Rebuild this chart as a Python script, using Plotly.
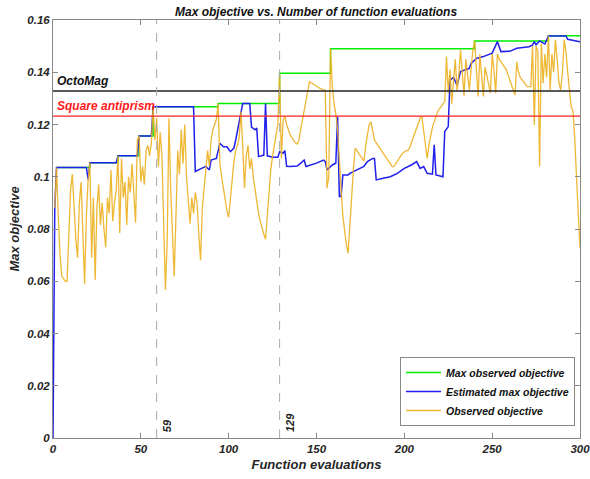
import plotly.graph_objects as go

# ---------------- data ----------------
evals = list(range(1, 301))
observed = [
    0.088, 0.1035, 0.085, 0.070, 0.062, 0.061, 0.060, 0.060, 0.078, 0.095,
    0.101, 0.088, 0.076, 0.069, 0.090, 0.098, 0.080, 0.059, 0.085, 0.099,
    0.1054, 0.069, 0.092, 0.0605, 0.088, 0.097, 0.0815, 0.090, 0.080, 0.073,
    0.092, 0.086, 0.1026, 0.083, 0.090, 0.095, 0.108, 0.0785, 0.107, 0.092,
    0.098, 0.0815, 0.100, 0.094, 0.105, 0.093, 0.0824, 0.114, 0.1156, 0.098,
    0.104, 0.097, 0.110, 0.112, 0.108, 0.113, 0.1268, 0.114, 0.1225, 0.1039,
    0.117, 0.108, 0.082, 0.0567, 0.075, 0.1224, 0.095, 0.078, 0.0618, 0.085,
    0.110, 0.101, 0.118, 0.105, 0.120, 0.100, 0.090, 0.082, 0.092, 0.086,
    0.094, 0.090, 0.078, 0.068, 0.088, 0.095, 0.105, 0.110, 0.104, 0.114,
    0.118, 0.120, 0.122, 0.128, 0.105, 0.100, 0.095, 0.090, 0.087, 0.0845,
    0.092, 0.100, 0.106, 0.110, 0.112, 0.115, 0.125, 0.112, 0.0957, 0.108,
    0.112, 0.103, 0.107, 0.100, 0.095, 0.090, 0.086, 0.083, 0.080, 0.078,
    0.0761, 0.085, 0.095, 0.103, 0.108, 0.112, 0.115, 0.120, 0.1396, 0.107,
    0.1217, 0.123, 0.120, 0.118, 0.116, 0.115, 0.114, 0.113, 0.1125, 0.114,
    0.118, 0.122, 0.126, 0.130, 0.133, 0.1364, 0.136, 0.1355, 0.135, 0.1345,
    0.134, 0.1338, 0.1335, 0.1332, 0.133, 0.0956, 0.100, 0.149, 0.135, 0.128,
    0.124, 0.118, 0.105, 0.095, 0.085, 0.078, 0.074, 0.0707, 0.080, 0.092,
    0.103, 0.111, 0.110, 0.109, 0.108, 0.107, 0.106, 0.112, 0.117, 0.120,
    0.121, 0.117, 0.114, 0.113, 0.112, 0.111, 0.110, 0.109, 0.108, 0.107,
    0.106, 0.105, 0.104, 0.1039, 0.105, 0.106, 0.107, 0.108, 0.109, 0.1095,
    0.110, 0.110, 0.111, 0.113, 0.115, 0.117, 0.119, 0.121, 0.1224, 0.123,
    0.118, 0.112, 0.107, 0.112, 0.116, 0.119, 0.121, 0.123, 0.125, 0.126,
    0.127, 0.128, 0.1288, 0.146, 0.132, 0.141, 0.128, 0.137, 0.145, 0.133,
    0.139, 0.1485, 0.140, 0.131, 0.145, 0.138, 0.1332, 0.141, 0.1485, 0.152,
    0.140, 0.1307, 0.147, 0.137, 0.1307, 0.142, 0.139, 0.136, 0.132, 0.147,
    0.141, 0.132, 0.147, 0.145, 0.144, 0.143, 0.142, 0.141, 0.139, 0.137,
    0.135, 0.133, 0.1313, 0.144, 0.140, 0.138, 0.137, 0.136, 0.135, 0.1345,
    0.1345, 0.1345, 0.150, 0.1198, 0.150, 0.148, 0.1039, 0.151, 0.1358, 0.147,
    0.138, 0.154, 0.1332, 0.147, 0.140, 0.1524, 0.145, 0.136, 0.1332, 0.140,
    0.1524, 0.148, 0.140, 0.132, 0.1268, 0.125, 0.115, 0.100, 0.085, 0.0726,
]

max_obs_x = [2, 21, 37, 49, 57, 94, 129, 158, 240, 282, 300]
max_obs_y = [0.1035, 0.1054, 0.108, 0.1156, 0.1268, 0.128, 0.1396, 0.149, 0.152, 0.154, 0.154]

est_x = [0, 1, 2, 19, 20, 21, 36, 37, 48, 49, 56, 57, 80, 81, 84, 87, 89, 90, 93, 95,
         97, 99, 101, 103, 104, 106, 108, 112, 113, 115, 116, 117, 120, 121, 122, 125,
         128, 129, 131, 132, 133, 135, 139, 141, 143, 144, 147, 150, 154, 155, 156, 159,
         161, 162, 163, 164, 165, 168, 169, 173, 177, 179, 182, 183, 184, 188, 192, 196,
         200, 204, 207, 209, 211, 213, 216, 217, 218, 222, 223, 225, 226, 228, 230, 232,
         237, 238, 241, 245, 250, 253, 255, 260, 264, 271, 273, 274, 275, 277, 279, 280,
         282, 292, 293, 300]
est_y = [0.0, 0.088, 0.1035, 0.1035, 0.099, 0.1054, 0.1054, 0.108, 0.108, 0.1156, 0.1156,
         0.1268, 0.1268, 0.102, 0.103, 0.104, 0.1026, 0.1064, 0.107, 0.1128, 0.1115, 0.1115,
         0.1096, 0.111, 0.114, 0.1217, 0.128, 0.128, 0.119, 0.118, 0.1186, 0.1077, 0.1083,
         0.128, 0.108, 0.1075, 0.1075, 0.1096, 0.109, 0.110, 0.104, 0.1039, 0.1041, 0.1052,
         0.1064, 0.1039, 0.1045, 0.1052, 0.1064, 0.1058, 0.1026, 0.1045, 0.1052, 0.123,
         0.0924, 0.0924, 0.1007, 0.1007, 0.1013, 0.1026, 0.104, 0.1058, 0.107, 0.107, 0.0988,
         0.0994, 0.100, 0.1013, 0.1032, 0.1045, 0.1058, 0.1032, 0.1039, 0.1013, 0.101, 0.1122,
         0.1007, 0.100, 0.1173, 0.1192, 0.137, 0.138, 0.135, 0.1403, 0.1415, 0.1434, 0.1453,
         0.146, 0.1473, 0.1517, 0.1479, 0.148, 0.1492, 0.1498, 0.1505, 0.1517, 0.1505, 0.152,
         0.151, 0.1508, 0.1539, 0.1539, 0.1526, 0.1517]

octomag_value = 0.1328
square_antiprism_value = 0.1232
marked_evals = [59, 129]

x_ticks = [0, 50, 100, 150, 200, 250, 300]
y_ticks = [0, 0.02, 0.04, 0.06, 0.08, 0.1, 0.12, 0.14, 0.16]

# ---------------- figure ----------------
FONT = "Liberation Sans"
bi = dict(family=FONT, weight="bold", style="italic")

fig = go.Figure()
fig.add_trace(go.Scatter(x=max_obs_x, y=max_obs_y, mode="lines", line_shape="hv",
                         line=dict(color="#00ee00", width=1.5), name="Max observed objective"))
fig.add_trace(go.Scatter(x=est_x, y=est_y, mode="lines",
                         line=dict(color="#1f1fee", width=1.5), name="Estimated max objective"))
fig.add_trace(go.Scatter(x=evals, y=observed, mode="lines",
                         line=dict(color="rgb(237,177,32)", width=1.3), opacity=0.9,
                         name="Observed objective"))
fig.add_trace(go.Scatter(x=[0, 300], y=[octomag_value] * 2, mode="lines",
                         line=dict(color="#222222", width=1.5), showlegend=False, hoverinfo="skip"))
fig.add_trace(go.Scatter(x=[0, 300], y=[square_antiprism_value] * 2, mode="lines",
                         line=dict(color="#ff2020", width=1.3), showlegend=False, hoverinfo="skip"))

for m in marked_evals:
    fig.add_shape(type="line", x0=m, x1=m, y0=0, y1=0.16, xref="x", yref="y",
                  line=dict(color="#aaaaaa", width=1, dash="dash"), layer="above")
    fig.add_annotation(x=m, y=0, xref="x", yref="y", text=str(m), showarrow=False,
                       textangle=-90, xanchor="left", yanchor="bottom", xshift=2, yshift=4,
                       font=dict(size=11, color="#222222", **bi))

fig.add_annotation(x=0, y=octomag_value, xref="x", yref="y", text="OctoMag", showarrow=False,
                   xanchor="left", yanchor="bottom", xshift=2, yshift=1,
                   font=dict(size=12, color="#111111", **bi))
fig.add_annotation(x=0, y=square_antiprism_value, xref="x", yref="y", text="Square antiprism",
                   showarrow=False, xanchor="left", yanchor="bottom", xshift=2, yshift=1,
                   font=dict(size=12, color="#ff1a1a", **bi))

axis_common = dict(showline=True, linecolor="#888888", linewidth=1, mirror="ticks",
                   ticks="inside", ticklen=5, tickcolor="#888888", showgrid=False,
                   zeroline=False, automargin=False, ticklabeloverflow="allow",
                   tickfont=dict(size=11.5, color="#262626", **bi))

fig.update_layout(
    width=590, height=479,
    margin=dict(l=53, r=10, t=20, b=41, autoexpand=False),
    paper_bgcolor="white", plot_bgcolor="white",
    title=dict(text="Max objective vs. Number of function evaluations", x=0.5357, xanchor="center",
               y=0.975, yanchor="middle", font=dict(size=12, color="#111111", **bi)),
    xaxis=dict(range=[0, 300], tickvals=x_ticks,
               title=dict(text="Function evaluations", standoff=6,
                          font=dict(size=13, color="#262626", **bi)), **axis_common),
    yaxis=dict(range=[0, 0.16], tickvals=y_ticks,
               title=dict(text="Max objective", standoff=4,
                          font=dict(size=13, color="#262626", **bi)), **axis_common),
    legend=dict(x=0.9905, y=0.0287, xanchor="right", yanchor="bottom",
                bordercolor="#888888", borderwidth=1, bgcolor="white",
                font=dict(size=10.5, color="#111111", **bi), tracegroupgap=0,
                itemwidth=35),
    showlegend=True,
)

fig.write_html("out.html", config={"displayModeBar": False},
               post_script="document.body.style.margin='0px';")
